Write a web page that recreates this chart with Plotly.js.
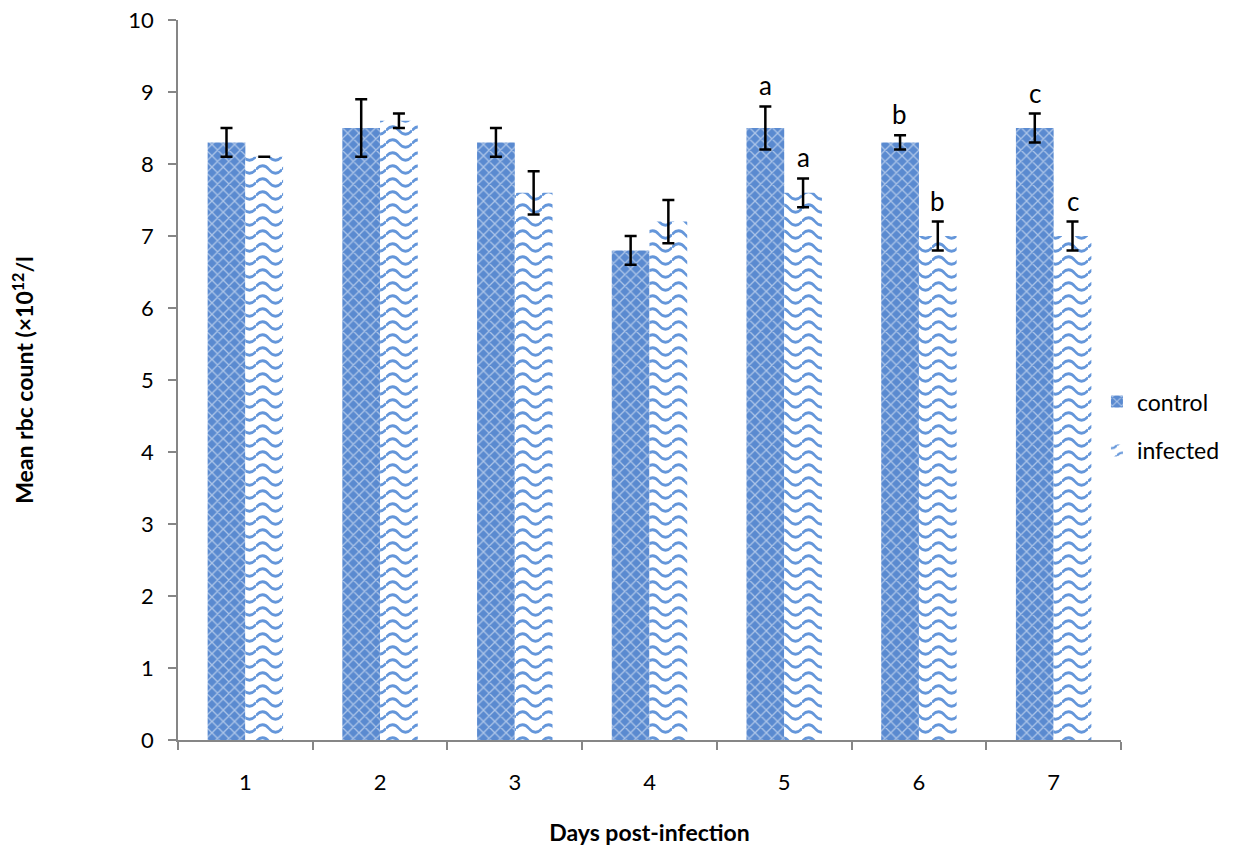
<!DOCTYPE html>
<html><head><meta charset="utf-8">
<script src="https://cdn.plot.ly/plotly-3.0.1.min.js"></script>
<style>body{margin:0;background:#fff}#c{width:1241px;height:852px}</style>
</head><body><div id="c"></div>
<script>
const days = ['1','2','3','4','5','6','7'];
const controlVals = [8.3, 8.5, 8.3, 6.8, 8.5, 8.3, 8.5];
const controlErr = [0.2, 0.4, 0.2, 0.2, 0.3, 0.1, 0.2];
const infectedVals = [8.1, 8.6, 7.6, 7.2, 7.6, 7.0, 7.0];
const infectedErr = [0.0, 0.1, 0.3, 0.3, 0.2, 0.2, 0.2];
const controlLetters = ['', '', '', '', 'a', 'b', 'c'];
const infectedLetters = ['', '', '', '', 'a', 'b', 'c'];

const font = 'Lato, "Open Sans", sans-serif';
const WAVE = '#6496da';
const traces = [
  {type:'bar', name:'control', x:days, y:controlVals, legendgroup:'g1',
   error_y:{type:'data', array:controlErr, visible:true, color:'#000', thickness:2.5, width:6},
   marker:{color:'#4f81bd', pattern:{shape:'x', fgcolor:'#ffffff', bgcolor:'#5a8ad0', size:8, solidity:0.3, fillmode:'overlay'}}},
  {type:'bar', name:'infected', x:days, y:infectedVals, legendgroup:'g2',
   error_y:{type:'data', array:infectedErr, visible:true, color:'#000', thickness:2.5, width:6},
   marker:{color:'#ffffff', pattern:{shape:'-', fgcolor:WAVE, bgcolor:'#ffffff', size:12, solidity:0.2, fillmode:'overlay'}}}
];
const annotations = [];
days.forEach((d,i)=>{
  if (controlLetters[i]) annotations.push({xref:'x', x:i, y:controlVals[i]+controlErr[i], text:controlLetters[i], showarrow:false, xshift:-19, yanchor:'bottom', yshift:3, font:{size:26, color:'#000', family:font}});
  if (infectedLetters[i]) annotations.push({xref:'x', x:i, y:infectedVals[i]+infectedErr[i], text:infectedLetters[i], showarrow:false, xshift:19, yanchor:'bottom', yshift:3, font:{size:26, color:'#000', family:font}});
});
const layout = {
  width:1241, height:852,
  margin:{l:178, r:120, t:20, b:112, autoexpand:false},
  paper_bgcolor:'#fff', plot_bgcolor:'#fff',
  font:{family:font, size:22, color:'#000'},
  barmode:'group', bargap:0.44, bargroupgap:0,
  showlegend:true,
  legend:{x:0.9745, xanchor:'left', y:0.436, yanchor:'middle', font:{size:23, family:font}, traceorder:'grouped', tracegroupgap:16, itemwidth:30},
  xaxis:{type:'category', showline:true, linecolor:'#868686', linewidth:1.5,
         ticks:'outside', tickson:'boundaries', ticklen:8, tickcolor:'#868686', tickwidth:1.5,
         showgrid:false, tickfont:{size:22}, ticklabelstandoff:22,
         title:{text:'<b>Days post-infection</b>', font:{size:23}, standoff:31}},
  yaxis:{range:[0,10], dtick:1, showline:true, linecolor:'#868686', linewidth:1.5,
         ticks:'outside', ticklen:8, tickcolor:'#868686', tickwidth:1.5,
         showgrid:false, zeroline:false, tickfont:{size:22}, ticklabelstandoff:10,
         title:{text:'<b>Mean rbc count (×10<sup>12</sup>/l</b>', font:{size:23}, standoff:88}},
  annotations:annotations
};
function wavify(){
  document.querySelectorAll('#c pattern').forEach(p=>{
    const path = p.querySelector('path');
    if (!path) return;
    const st = (path.getAttribute('style')||'') + ' ' + (path.getAttribute('stroke')||'');
    if (st.indexOf('100, 150, 218')<0 && st.toLowerCase().indexOf('6496da')<0) return;
    p.setAttribute('width', 26);
    p.setAttribute('height', 13);
    p.setAttribute('patternUnits','userSpaceOnUse');
    p.querySelectorAll('rect').forEach(r=>{r.setAttribute('width',26);r.setAttribute('height',13);});
    path.setAttribute('d','M0,6.5 C4,1.5 9,1.5 13,6.5 C17,11.5 22,11.5 26,6.5');
    path.style.fill='none';
    path.style.strokeWidth='2.8px';
    path.style.stroke=WAVE;
    path.style.opacity='1';
  });
}
Plotly.newPlot('c', traces, layout, {displayModeBar:false}).then(wavify);
</script></body></html>
